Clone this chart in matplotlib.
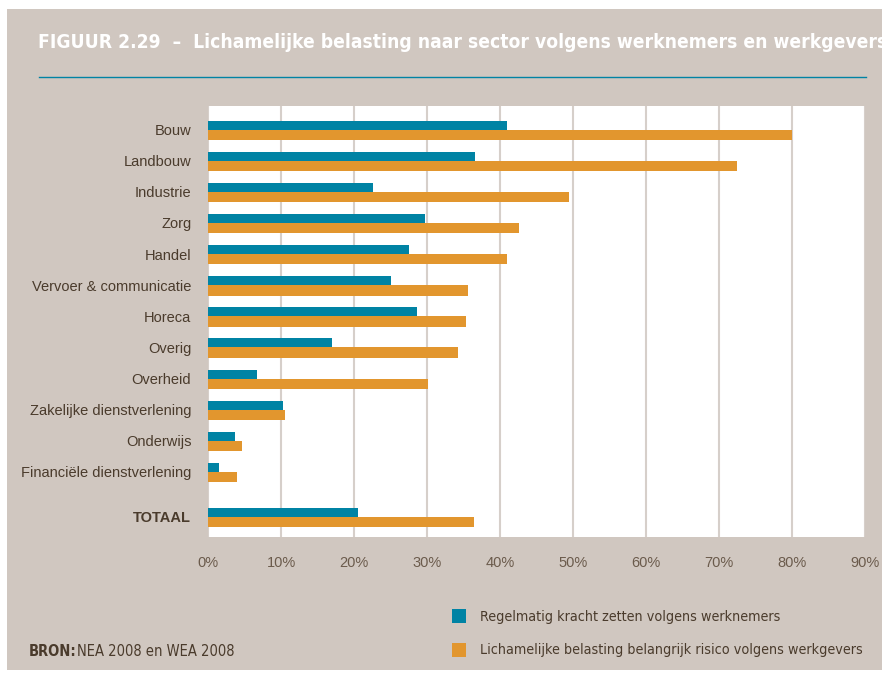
import matplotlib.pyplot as plt
from matplotlib.patches import Rectangle
from matplotlib.lines import Line2D
import numpy as np

sectors = ['Bouw', 'Landbouw', 'Industrie', 'Zorg', 'Handel', 'Vervoer & communicatie',
           'Horeca', 'Overig', 'Overheid', 'Zakelijke dienstverlening', 'Onderwijs',
           'Financiële dienstverlening', 'TOTAAL']
werknemers = [41.0, 36.6, 22.6, 29.7, 27.6, 25.0, 28.6, 17.0, 6.7, 10.3, 3.7, 1.5, 20.5]
werkgevers = [80.0, 72.5, 49.5, 42.6, 41.0, 35.6, 35.4, 34.3, 30.2, 10.5, 4.6, 4.0, 36.5]
xticks = [0, 10, 20, 30, 40, 50, 60, 70, 80, 90]

teal = '#0083a4'
orange = '#e2962e'
beige = '#d0c7c0'
brown = '#4a3b2c'
narrow = ['DejaVu Sans']

fig = plt.figure(figsize=(8.88, 6.74), dpi=100)
fig.patch.set_facecolor('white')
fig.patches.append(Rectangle((7 / 888, 1 - 670 / 674), 875 / 888, 661 / 674,
                             transform=fig.transFigure, facecolor=beige, edgecolor='none', zorder=-1))

ax = fig.add_axes([208 / 888, 1 - 537 / 674, 657 / 888, 431 / 674])
ax.set_zorder(2)
ax.set_facecolor('white')

pos = np.arange(len(sectors), dtype=float)
pos[-1] = 12.45
h = 0.33
ax.barh(pos - 0.12, werknemers, height=h, color=teal, zorder=3)
ax.barh(pos + 0.17, werkgevers, height=h, color=orange, zorder=3)

ax.set_xlim(0, 90)
ax.set_ylim(13.1, -0.76)
ax.set_xticks(xticks)
ax.set_xticklabels([f'{t}%' for t in xticks], fontsize=10.5, color='#6b5b4c', family='Liberation Sans')
ax.set_yticks(pos)
ax.set_yticklabels(sectors, fontsize=10.5, color=brown, family='Liberation Sans')
ax.get_yticklabels()[-1].set_fontweight('bold')
ax.tick_params(length=0)
ax.tick_params(axis='x', pad=14)
ax.tick_params(axis='y', pad=12)
ax.grid(axis='x', color='#d6cfca', linewidth=1.5, zorder=0)
for s in ax.spines.values():
    s.set_visible(False)

fig.text(38 / 888, 1 - 42 / 674, 'FIGUUR 2.29  –  Lichamelijke belasting naar sector volgens werknemers en werkgevers',
         color='white', fontsize=13.8, fontweight='bold', family=narrow, fontstretch='condensed', va='center')
fig.add_artist(Line2D([39 / 888, 866 / 888], [1 - 77 / 674, 1 - 77 / 674], color=teal, linewidth=1,
                      transform=fig.transFigure))

# legend
fig.patches.append(Rectangle((452 / 888, 1 - 623 / 674), 14 / 888, 14 / 674, transform=fig.transFigure,
                             facecolor=teal, edgecolor='none'))
fig.patches.append(Rectangle((452 / 888, 1 - 657 / 674), 14 / 888, 14 / 674, transform=fig.transFigure,
                             facecolor=orange, edgecolor='none'))
fig.text(480 / 888, 1 - 617 / 674, 'Regelmatig kracht zetten volgens werknemers', color=brown,
         fontsize=10.25, family=narrow, fontstretch='condensed', va='center')
fig.text(480 / 888, 1 - 650 / 674, 'Lichamelijke belasting belangrijk risico volgens werkgevers', color=brown,
         fontsize=10.25, family=narrow, fontstretch='condensed', va='center')

fig.text(29 / 888, 1 - 652 / 674, 'BRON:', color=brown, fontsize=10.5, fontweight='bold', family=narrow,
         fontstretch='condensed', va='center')
fig.text(77 / 888, 1 - 652 / 674, 'NEA 2008 en WEA 2008', color=brown, fontsize=10.5, family=narrow,
         fontstretch='condensed', va='center')

plt.savefig('out.png', dpi=100, facecolor=fig.get_facecolor())
